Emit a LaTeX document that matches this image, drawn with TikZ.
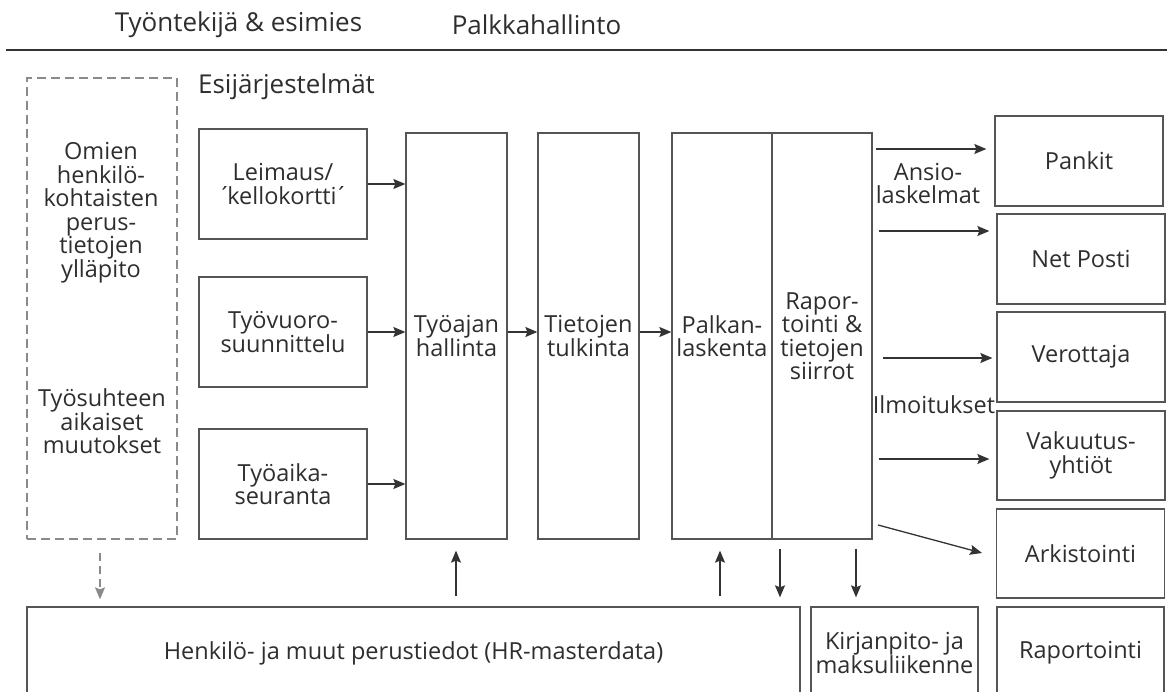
\documentclass[tikz,border=0pt]{standalone}
\usepackage{fontspec}
\setmainfont{Open Sans}
\usetikzlibrary{arrows.meta}
\definecolor{txt}{HTML}{2E2E2E}
\definecolor{boxln}{HTML}{555555}
\definecolor{arrln}{HTML}{333333}
\definecolor{dashln}{HTML}{8A8A8A}
\tikzset{
  lbl/.style={text=txt,font=\fontsize{23.5}{23.5}\selectfont,align=center,inner sep=0pt},
  hdr/.style={text=txt,font=\fontsize{26}{26}\selectfont,inner sep=0pt},
  bx/.style={lbl,draw=boxln,line width=1.3pt,minimum width=#1},
  bx/.default=168pt,
  arr/.style={draw=arrln,line width=1.3pt,-{Stealth[length=12pt,width=10pt,inset=2pt]}},
  darr/.style={draw=dashln,line width=1.6pt,dash pattern=on 8pt off 5pt,-{Stealth[length=12pt,width=10pt,inset=2pt]}}
}
\begin{document}
\begin{tikzpicture}[x=1pt,y=-1pt]
\useasboundingbox (0,0) rectangle (1167,692);
\clip (0,0) rectangle (1167,692);
% header
\node[hdr] (hdr1) at (238.5,25) {Työntekijä \& esimies};
\node[hdr] (hdr2) at (536.5,25) {Palkkahallinto};
\coordinate (lineL) at (6,50);
\coordinate (lineR) at (1167,50);
\draw[draw=arrln,line width=2.8pt] (lineL) -- (lineR);
\node[hdr] (esij) at (286.5,87) {Esijärjestelmät};
% dashed box
\node[draw=dashln,line width=1.8pt,dash pattern=on 9pt off 5pt,minimum width=150pt,minimum height=461pt,inner sep=0pt] (dash) at (102,308.5) {};
\node[lbl] (omien) at (101,212.5) {Omien\\henkilö-\\kohtaisten\\perus-\\tietojen\\ylläpito};
\node[lbl] (tyosuh) at (102,421.5) {Työsuhteen\\aikaiset\\muutokset};
% source boxes
\node[bx,minimum height=110pt] (leim) at (283,184) {Leimaus/\\´\kern-4pt kellokortti\kern-2pt´};
\node[bx,minimum height=110pt] (vuoro) at (283,332) {Työvuoro-\\suunnittelu};
\node[bx,minimum height=110pt] (seur) at (283,484) {Työaika-\\seuranta};
% tall boxes
\node[bx=101pt,minimum height=406pt] (tyoaj) at (456.5,336) {Työajan\\hallinta};
\node[bx=101pt,minimum height=406pt] (tulk) at (588.5,336) {Tietojen\\tulkinta};
\node[bx=100pt,minimum height=406pt] (palk) at (722,336) {Palkan-\\laskenta};
\node[bx=100pt,minimum height=406pt] (rap) at (822,336) {Rapor-\\tointi \&\\tietojen\\siirrot};
% right boxes
\node[bx,minimum height=90pt] (pank) at (1079,161) {Pankit};
\node[bx,minimum height=90pt] (post) at (1081,259) {Net Posti};
\node[bx,minimum height=90pt] (vero) at (1081,357) {Verottaja};
\node[bx,minimum height=89pt] (vak) at (1081,455.5) {Vakuutus-\\yhtiöt};
\node[bx,minimum height=89pt] (ark) at (1080.5,553.5) {Arkistointi};
% bottom boxes
\node[bx=773pt,minimum height=92pt] (hr) at (413.5,653) {Henkilö- ja muut perustiedot (HR-masterdata)};
\node[bx=167pt,minimum height=92pt] (kirj) at (894.5,653) {Kirjanpito- ja\\maksuliikenne};
\node[bx=167pt,minimum height=92pt] (rapo) at (1080.5,653) {Raportointi};
% labels
\node[lbl] (ansio) at (928,183.5) {Ansio-\\laskelmat};
\node[lbl] (ilmo) at (934,405) {Ilmoitukset};
% arrows left
\draw[arr] (leim.east) -- (leim.east -| tyoaj.west);
\draw[arr] (vuoro.east) -- (vuoro.east -| tyoaj.west);
\draw[arr] (seur.east) -- (seur.east -| tyoaj.west);
\draw[arr] (tyoaj.east |- vuoro.east) -- (tulk.west |- vuoro.east);
\draw[arr] (tulk.east |- vuoro.east) -- (palk.west |- vuoro.east);
% arrows right
\draw[arr,shorten <=3pt,shorten >=8pt] (rap.east |- {0,149}) -- (pank.west |- {0,149});
\draw[arr,shorten <=6pt,shorten >=7pt] (rap.east |- {0,231}) -- (post.west |- {0,231});
\draw[arr,shorten <=10pt,shorten >=4pt] (rap.east |- {0,358}) -- (vero.west |- {0,358});
\draw[arr,shorten <=6pt,shorten >=7pt] (rap.east |- {0,459}) -- (vak.west |- {0,459});
\coordinate (arkS) at (878,525);
\coordinate (arkE) at (982,553);
\draw[arr] (arkS) -- (arkE);
% vertical arrows
\draw[darr,shorten <=13pt,shorten >=7pt] (dash.south -| {100,0}) -- (hr.north -| {100,0});
\draw[arr,shorten <=10pt,shorten >=11pt] (hr.north -| {456,0}) -- (tyoaj.south -| {456,0});
\draw[arr,shorten <=10pt,shorten >=11pt] (hr.north -| {720,0}) -- (palk.south -| {720,0});
\draw[arr,shorten <=9pt,shorten >=9pt] (rap.south -| {780,0}) -- (hr.north -| {780,0});
\draw[arr,shorten <=9pt,shorten >=9pt] (rap.south -| {856,0}) -- (kirj.north -| {856,0});
\end{tikzpicture}
\end{document}
